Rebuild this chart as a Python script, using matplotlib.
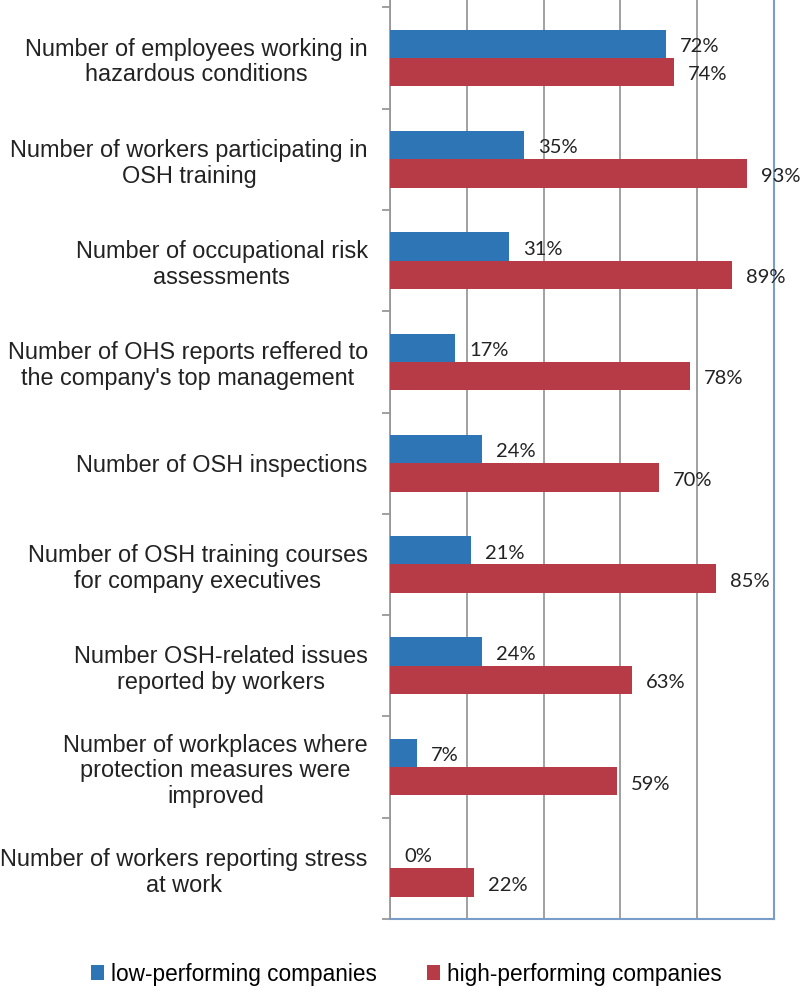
import matplotlib.pyplot as plt
import numpy as np

categories = [
    'Number of employees working in\nhazardous conditions',
    'Number of workers participating in\nOSH training',
    'Number of occupational risk\nassessments',
    "Number of OHS reports reffered to\nthe company's top management",
    'Number of OSH inspections',
    'Number of OSH training courses\nfor company executives',
    'Number OSH-related issues\nreported by workers',
    'Number of workplaces where\nprotection measures were\nimproved',
    'Number of workers reporting stress\nat work',
]
low_perf = [72, 35, 31, 17, 24, 21, 24, 7, 0]
high_perf = [74, 93, 89, 78, 70, 85, 63, 59, 22]
series_names = ['low-performing companies', 'high-performing companies']

blue = '#2e75b6'
red = '#b73a47'
grid_gray = '#999999'
frame_blue = '#7a9cc8'

plt.rcParams['font.family'] = ['Liberation Sans', 'DejaVu Sans']

fig = plt.figure(figsize=(8, 9.92), dpi=100)
ax = fig.add_axes([0.4875, 0.0736, 0.48, 0.9264])

y = np.arange(len(categories))
h = 0.28
b1 = ax.barh(y - h / 2, low_perf, height=h, color=blue, label=series_names[0], zorder=3)
b2 = ax.barh(y + h / 2, high_perf, height=h, color=red, label=series_names[1], zorder=3)

for bars, vals in ((b1, low_perf), (b2, high_perf)):
    for bar, v in zip(bars, vals):
        ax.annotate(f'{v}%', xy=(v, bar.get_y() + bar.get_height() / 2),
                    xytext=(10, -2), textcoords='offset points',
                    va='center', ha='left', fontsize=14.5, family='Lato', color='#222222')

ax.set_xlim(0, 100)
ax.set_ylim(8.5, -0.573)
ax.set_xticks(np.arange(0, 101, 20))
ax.set_xticklabels([])
ax.tick_params(axis='x', length=0)
ax.grid(axis='x', color=grid_gray, linewidth=1.3, zorder=0)

ax.set_yticks(y)
ax.set_yticklabels(categories, fontsize=16.9, color='#222222', linespacing=1.15)
for lab in ax.get_yticklabels():
    lab.set_multialignment('center')
ax.tick_params(axis='y', which='major', length=0, pad=16)
ax.set_yticks(np.arange(-0.5, 9, 1), minor=True)
ax.tick_params(axis='y', which='minor', length=6, color=grid_gray, width=1.3)

ax.spines['top'].set_visible(False)
ax.spines['left'].set_color(grid_gray)
ax.spines['left'].set_linewidth(1.3)
for s in ('right', 'bottom'):
    ax.spines[s].set_color(frame_blue)
    ax.spines[s].set_linewidth(1.5)

fig.legend(handles=[b1, b2], loc='center', bbox_to_anchor=(0.508, 0.018), ncol=2,
           frameon=False, fontsize=16.3, handlelength=0.6, handleheight=0.6,
           handletextpad=0.3, columnspacing=2.2)

fig.savefig('out.png', dpi=100)
